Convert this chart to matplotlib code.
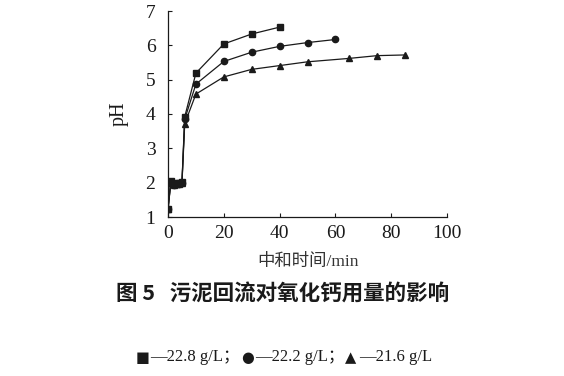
import matplotlib
matplotlib.use('Agg')
import matplotlib.pyplot as plt

# reaction time (min) and pH for three CaO dosages
t_a = [0, 1, 2, 3, 4, 5, 6, 10, 20, 30, 40]
ph_a = [1.22, 2.05, 1.95, 1.98, 1.98, 2.02, 3.92, 5.19, 6.04, 6.33, 6.53]

t_b = [0, 1, 2, 3, 4, 5, 6, 10, 20, 30, 40, 50, 60]
ph_b = [1.22, 2.02, 1.93, 1.97, 1.97, 2.0, 3.85, 4.87, 5.53, 5.8, 5.97, 6.08, 6.17]

t_c = [0, 1, 2, 3, 4, 5, 6, 10, 20, 30, 40, 50, 65, 75, 85]
ph_c = [1.22, 1.98, 1.92, 1.96, 1.96, 1.98, 3.72, 4.58, 5.08, 5.3, 5.41, 5.52, 5.62, 5.7, 5.72]

legend_symbols = ['■', '●', '▲']
legend_labels = ['—22.8 g/L；', '—22.2 g/L；', '—21.6 g/L']
caption = '图 5   污泥回流对氧化钙用量的影响'

serif = ['Liberation Serif', 'Noto Sans CJK SC', 'DejaVu Sans']
cjk = ['Noto Sans CJK SC', 'Liberation Serif', 'DejaVu Sans']
ink = '#1a1a1a'

fig = plt.figure(figsize=(5.64, 3.76), dpi=100)
ax = fig.add_axes([168 / 564, 1 - 217 / 376, 279 / 564, 206 / 376])

kw = dict(color=ink, lw=0.9, ms=4.5)
ax.plot(t_a, ph_a, marker='s', **kw)
ax.plot(t_b, ph_b, marker='o', **kw)
ax.plot(t_c, ph_c, marker='^', **kw)

ax.set_xlim(0, 100)
ax.set_ylim(1, 7)
ax.set_xticks(range(0, 101, 20))
ax.set_yticks(range(1, 8))
for s in ['top', 'right']:
    ax.spines[s].set_visible(False)
for s in ['left', 'bottom']:
    ax.spines[s].set_linewidth(0.9)
    ax.spines[s].set_color(ink)
ax.tick_params(direction='in', length=3, width=0.8, labelsize=14,
               colors=ink)
ax.tick_params(axis='x', pad=6)
ax.tick_params(axis='y', pad=9)
for lab in ax.get_xticklabels() + ax.get_yticklabels():
    lab.set_family(serif)

ax.set_ylabel('pH', family=serif, fontsize=14.5, color=ink, labelpad=12)

fig.text(308 / 564, 1 - 262 / 376, '中和时间/min', family=['Liberation Serif', 'Noto Sans CJK SC'],
         fontsize=12.5, ha='center', va='center', color='#333333')
fig.text(283 / 564, 1 - 294 / 376, caption, family=cjk, fontsize=15.5,
         fontweight='bold', ha='center', va='center', color=ink)

# legend line under the caption
sym_x = [136, 241, 345]
lab_x = [150, 255, 359]
for sx, lx, sym, lab in zip(sym_x, lab_x, legend_symbols, legend_labels):
    fig.text(sx / 564, 1 - 358 / 376, sym, family=['DejaVu Sans'], fontsize=10.5,
             ha='left', va='center', color=ink)
    fig.text(lx / 564, 1 - 357 / 376, lab, family=serif, fontsize=12,
             ha='left', va='center', color=ink)

fig.savefig('out.png', dpi=100)
